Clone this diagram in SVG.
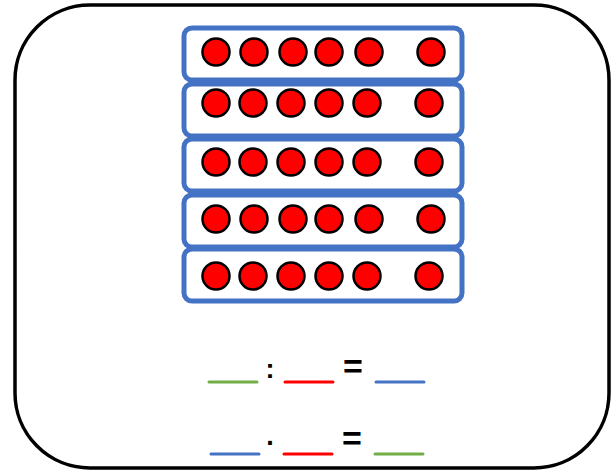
<svg xmlns="http://www.w3.org/2000/svg" width="613" height="470" viewBox="0 0 613 470">
<style>
.frame{fill:#fff;stroke:#000;stroke-width:3.5}
.box{fill:#fff;stroke:#4472C4;stroke-width:5}
.dot{fill:#FF0000;stroke:#000;stroke-width:2.5}
.blank{stroke-width:3;stroke-linecap:round}
.g{stroke:#70AD47}.r{stroke:#FF0000}.b{stroke:#4472C4}
.op{font-family:"Liberation Sans",Arial,sans-serif;font-weight:bold;fill:#000;text-anchor:middle}
</style>
<defs>
<g id="rowA">
<circle class="dot" cx="216" cy="0" r="13.5"/><circle class="dot" cx="254" cy="0" r="13.5"/><circle class="dot" cx="293" cy="0" r="13.5"/><circle class="dot" cx="329" cy="0" r="13.5"/><circle class="dot" cx="369" cy="0" r="13.5"/><circle class="dot" cx="431" cy="0" r="13.5"/>
</g>
<g id="rowB">
<circle class="dot" cx="216" cy="0" r="13.5"/><circle class="dot" cx="253" cy="0" r="13.5"/><circle class="dot" cx="291" cy="0" r="13.5"/><circle class="dot" cx="329" cy="0" r="13.5"/><circle class="dot" cx="367" cy="0" r="13.5"/><circle class="dot" cx="429" cy="0" r="13.5"/>
</g>
</defs>
<rect id="frame" class="frame" x="15" y="5" width="594" height="463" rx="75" ry="75"/>
<g id="frame5">
<rect class="box" x="184" y="28" width="278" height="52" rx="8"/>
<use href="#rowA" y="52"/>
</g>
<g id="frame4">
<rect class="box" x="184" y="84" width="278" height="52" rx="8"/>
<use href="#rowB" y="103"/>
</g>
<g id="frame3">
<rect class="box" x="184" y="139" width="278" height="52" rx="8"/>
<use href="#rowB" y="162"/>
</g>
<g id="frame2">
<rect class="box" x="184" y="195" width="278" height="52" rx="8"/>
<use href="#rowA" y="219"/>
</g>
<g id="frame1">
<rect class="box" x="184" y="249" width="278" height="52" rx="8"/>
<use href="#rowB" y="276"/>
</g>
<g id="equation1">
<line class="blank g" x1="209" y1="382" x2="257" y2="382"/>
<text class="op" x="270" y="378" font-size="27">:</text>
<line class="blank r" x1="285" y1="382" x2="333" y2="382"/>
<text class="op" x="353" y="378" font-size="34">=</text>
<line class="blank b" x1="376" y1="382" x2="424" y2="382"/>
</g>
<g id="equation2">
<line class="blank b" x1="211" y1="454" x2="259" y2="454"/>
<text class="op" x="270" y="445" font-size="27">.</text>
<line class="blank r" x1="284" y1="454" x2="332" y2="454"/>
<text class="op" x="352" y="450" font-size="34">=</text>
<line class="blank g" x1="375" y1="454" x2="423" y2="454"/>
</g>
</svg>
